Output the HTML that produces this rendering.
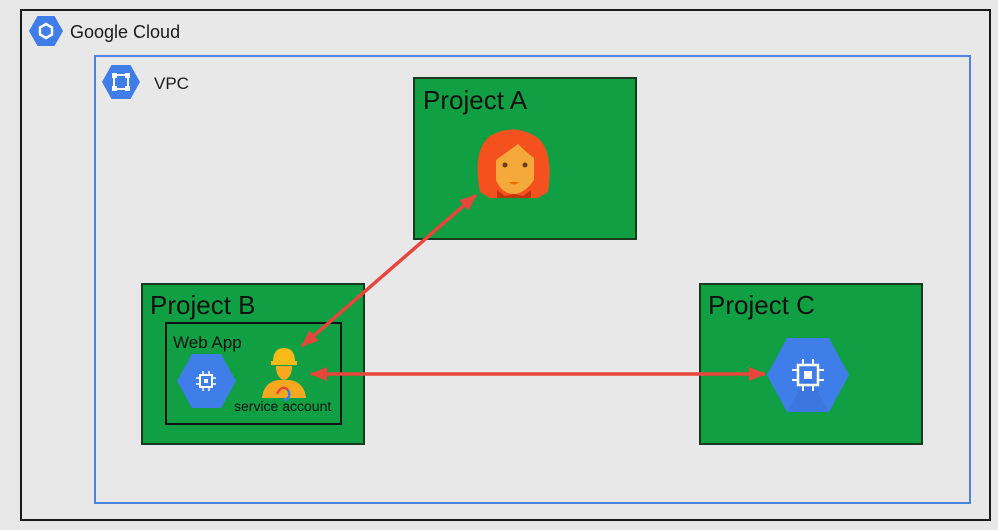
<!DOCTYPE html>
<html><head><meta charset="utf-8"><style>
html,body{margin:0;padding:0;background:#e7e7e7;}
svg{display:block;font-family:"Liberation Sans",Arial,sans-serif;}
</style></head><body>
<svg width="998" height="530" viewBox="0 0 998 530" xmlns="http://www.w3.org/2000/svg">
<defs>
<marker id="ah" markerWidth="18" markerHeight="16" refX="16" refY="8" orient="auto-start-reverse" markerUnits="userSpaceOnUse">
<path d="M0,1 L17,8 L0,15 Z" fill="#e8453c"/>
</marker>
</defs>
<rect x="0" y="0" width="998" height="530" fill="#e7e7e7"/>
<rect x="21" y="10" width="969" height="510" fill="#e8e8e8" stroke="#1a1a1a" stroke-width="2"/>
<polygon points="37.5,16 54.5,16 63,31 54.5,46 37.5,46 29,31" fill="#3f7de8"/>
<polygon points="46,24 52,27.5 52,34.5 46,38 40,34.5 40,27.5" fill="none" stroke="#fff" stroke-width="2.5"/>
<text x="70" y="38" font-size="18" fill="#1a1a1a">Google Cloud</text>
<rect x="95" y="56" width="875" height="447" fill="none" stroke="#4a86e0" stroke-width="2"/>
<polygon points="111.5,65 130.5,65 140,82 130.5,99 111.5,99 102,82" fill="#3f7de8"/>
<rect x="114" y="75" width="14" height="14" fill="none" stroke="#fff" stroke-width="2"/>
<rect x="112" y="73" width="5" height="5" fill="#fff"/><rect x="125" y="73" width="5" height="5" fill="#fff"/>
<rect x="112" y="86" width="5" height="5" fill="#fff"/><rect x="125" y="86" width="5" height="5" fill="#fff"/>
<text x="154" y="89" font-size="17" fill="#1a1a1a">VPC</text>
<rect x="414" y="78" width="222" height="161" fill="#10a043" stroke="#1a3a20" stroke-width="2"/>
<text x="423" y="109" font-size="26" fill="#111">Project A</text>
<rect x="142" y="284" width="222" height="160" fill="#10a043" stroke="#1a3a20" stroke-width="2"/>
<text x="150" y="314" font-size="26" fill="#111">Project B</text>
<rect x="700" y="284" width="222" height="160" fill="#10a043" stroke="#1a3a20" stroke-width="2"/>
<text x="708" y="314" font-size="26" fill="#111">Project C</text>
<rect x="166" y="323" width="175" height="101" fill="#10a043" stroke="#111" stroke-width="2"/>
<text x="173" y="348" font-size="17" fill="#111">Web App</text>
<!-- woman -->
<path d="M480,192 Q472,150 490,136 Q514,122 538,138 Q554,152 548,192 L538,198 L490,198 Z" fill="#f4511e"/>
<path d="M496,160 Q510,150 518,144 Q526,152 534,158 L534,180 Q524,194 514,194 Q502,194 496,180 Z" fill="#f6a93b"/>
<circle cx="505" cy="165" r="2.5" fill="#6b3d10"/><circle cx="525" cy="165" r="2.5" fill="#6b3d10"/>
<path d="M509,182 L519,182 Q514,187 509,182 Z" fill="#ef6c00"/>
<path d="M497,190 L505,196 L514,194 L523,196 L531,190 L531,198 L497,198 Z" fill="#bf360c"/>
<polygon points="192,354 221,354 236,381 221,408 192,408 177,381" fill="#3f7de8"/>
<rect x="200" y="375" width="12" height="12" fill="none" stroke="#fff" stroke-width="2"/>
<rect x="204" y="379" width="4" height="4" fill="#fff"/>
<g stroke="#fff" stroke-width="1.5"><line x1="203" y1="371" x2="203" y2="374"/><line x1="209" y1="371" x2="209" y2="374"/><line x1="203" y1="388" x2="203" y2="391"/><line x1="209" y1="388" x2="209" y2="391"/><line x1="196" y1="378" x2="199" y2="378"/><line x1="196" y1="384" x2="199" y2="384"/><line x1="213" y1="378" x2="216" y2="378"/><line x1="213" y1="384" x2="216" y2="384"/></g>
<path d="M273,362 Q273,348 284,348 Q295,348 295,362 Z" fill="#f9b916"/>
<rect x="271" y="361" width="26" height="4" fill="#f9b916"/>
<path d="M276,366 L292,366 Q292,378 284,380 Q276,378 276,366 Z" fill="#f6a821"/>
<path d="M262,398 Q264,382 278,380 L290,380 Q304,382 306,398 Z" fill="#f6a821"/>
<path d="M277,394 Q282,384 288,390" fill="none" stroke="#e8453c" stroke-width="2.5"/>
<path d="M288,390 Q292,398 284,400" fill="none" stroke="#3f7de8" stroke-width="2.5"/>
<text x="234" y="411" font-size="14" fill="#111">service account</text>
<polygon points="787,338 829,338 849,375 829,412 787,412 767,375" fill="#3f7de8"/>
<polygon points="808,375 829,412 787,412" fill="#3a70d6" opacity="0.5"/>
<rect x="798" y="365" width="20" height="20" fill="none" stroke="#fff" stroke-width="2.5"/>
<rect x="804" y="371" width="8" height="8" fill="#fff"/>
<g stroke="#fff" stroke-width="2"><line x1="803" y1="359" x2="803" y2="364"/><line x1="813" y1="359" x2="813" y2="364"/><line x1="803" y1="386" x2="803" y2="391"/><line x1="813" y1="386" x2="813" y2="391"/><line x1="792" y1="370" x2="797" y2="370"/><line x1="792" y1="380" x2="797" y2="380"/><line x1="819" y1="370" x2="824" y2="370"/><line x1="819" y1="380" x2="824" y2="380"/></g>
<line x1="476" y1="195" x2="302" y2="346" stroke="#e8453c" stroke-width="3.5" marker-start="url(#ah)" marker-end="url(#ah)"/>
<line x1="311" y1="374" x2="765" y2="374" stroke="#e8453c" stroke-width="3.5" marker-start="url(#ah)" marker-end="url(#ah)"/>
</svg>
</body></html>
